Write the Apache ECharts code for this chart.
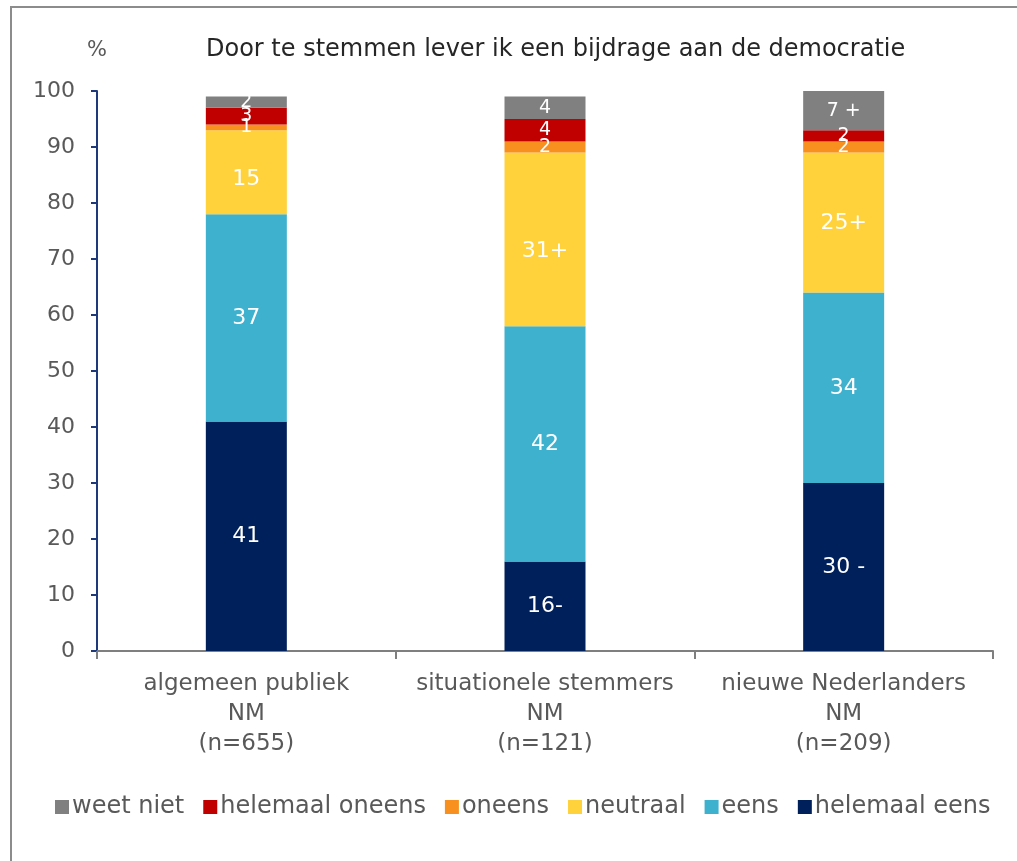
<!DOCTYPE html>
<html>
<head>
<meta charset="utf-8">
<script src="https://cdn.jsdelivr.net/npm/echarts@6/dist/echarts.min.js"></script>
<style>
  html,body{margin:0;padding:0;background:#fff;}
  #main{width:1017px;height:861px;}
</style>
</head>
<body>
<div id="main"></div>
<script>
// categorieen op de x-as
const categories = ['algemeen publiek\nNM\n(n=655)', 'situationele stemmers\nNM\n(n=121)', 'nieuwe Nederlanders\nNM\n(n=209)'];
// waarden per antwoord (van onder naar boven gestapeld)
const helemaalEens = [41, 16, 30];
const eens = [37, 42, 34];
const neutraal = [15, 31, 25];
const oneens = [1, 2, 2];
const helemaalOneens = [3, 4, 2];
const weetNiet = [2, 4, 7];
// significantie-tekens achter de labels
const sigHelemaalEens = ['', '-', ' -'];
const sigNeutraal = ['', '+', '+'];
const sigWeetNiet = ['', '', ' +'];
const yTicks = [0, 10, 20, 30, 40, 50, 60, 70, 80, 90, 100];

let myChart = echarts.init(document.getElementById('main'));
const font = '"DejaVu Sans", sans-serif';

function mk(name, data, color, sig, fs, dy){
  return {
    name: name,
    type: 'bar',
    stack: 'tot',
    barWidth: 81,
    data: data.map(function(v, i){
      // labels staan in het origineel soms iets lager
      return dy ? {value: v, label: {offset: [0, dy[i]]}} : v;
    }),
    itemStyle: {color: color},
    label: {
      show: true,
      position: 'inside',
      color: '#fff',
      fontFamily: font,
      fontSize: fs || 22,
      formatter: function(p){ return p.value + (sig ? sig[p.dataIndex] : ''); }
    }
  };
}

let option = {
  animation: false,
  textStyle: {fontFamily: font},
  graphic: [{
    type: 'rect',
    shape: {x: 11, y: 7, width: 1030, height: 900},
    style: {fill: 'none', stroke: '#8c8c8c', lineWidth: 2}
  }],
  title: {
    text: 'Door te stemmen lever ik een bijdrage aan de democratie',
    left: 201, top: 33,
    textStyle: {color: '#262626', fontWeight: 'normal', fontSize: 24, fontFamily: font}
  },
  legend: {
    data: ['weet niet', 'helemaal oneens', 'oneens', 'neutraal', 'eens', 'helemaal eens'],
    left: 55, top: 795, padding: 0,
    icon: 'rect', itemWidth: 14, itemHeight: 14, itemGap: 19,
    textStyle: {color: '#595959', fontSize: 24, fontFamily: font, padding: [0, 0, 0, -2]}
  },
  grid: {left: 97, right: 24, top: 91, bottom: 210},
  xAxis: {
    type: 'category',
    data: categories,
    axisLine: {lineStyle: {color: '#7f7f7f', width: 2}},
    axisTick: {show: true, interval: 0, length: 8, lineStyle: {color: '#7f7f7f', width: 2}},
    axisLabel: {interval: 0, color: '#595959', fontSize: 23, lineHeight: 30, margin: 18, fontFamily: font}
  },
  yAxis: {
    type: 'value', min: 0, max: 100, interval: 10,
    name: '%', nameLocation: 'end', nameGap: 30,
    nameTextStyle: {color: '#595959', fontSize: 21, align: 'center', fontFamily: font},
    axisLine: {show: true, lineStyle: {color: '#1f3a7a', width: 2}},
    axisTick: {show: true, length: 6, lineStyle: {color: '#1f3a7a', width: 2}},
    splitLine: {show: false},
    axisLabel: {color: '#595959', fontSize: 22, margin: 22, fontFamily: font,
      formatter: function(v){ return yTicks.indexOf(v) >= 0 ? v : ''; }}
  },
  series: [
    mk('helemaal eens', helemaalEens, '#00205b', sigHelemaalEens),
    mk('eens', eens, '#3eb1cf'),
    mk('neutraal', neutraal, '#ffd13a', sigNeutraal, 22, [7, 12, 1]),
    mk('oneens', oneens, '#f7901e', null, 19),
    mk('helemaal oneens', helemaalOneens, '#c00000', null, 19),
    mk('weet niet', weetNiet, '#808080', sigWeetNiet, 19)
  ]
};
myChart.setOption(option);
</script>
</body>
</html>
